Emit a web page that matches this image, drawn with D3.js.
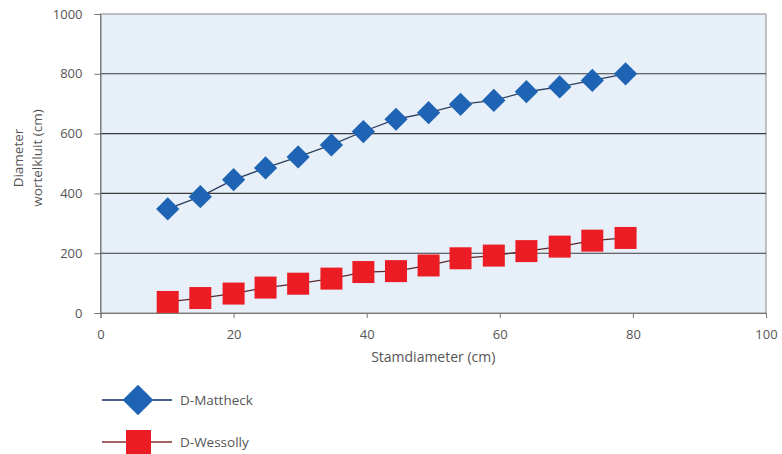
<!DOCTYPE html>
<html><head><meta charset="utf-8">
<script src="https://cdn.jsdelivr.net/npm/d3@7/dist/d3.min.js"></script>
<style>
html,body{margin:0;padding:0;background:#fff;}
svg{display:block;}
text{font-family:"Open Sans",sans-serif;fill:#555;}
</style></head>
<body>
<svg id="chart" width="782" height="454"></svg>
<script>
const stamdiameter = [10.1,15,20,24.8,29.7,34.7,39.5,44.4,49.3,54.1,59.1,64,69,73.9,78.9];
const dMattheck = [348,389,446,485,522,562,607,648,670,698,711,740,756,778,800];
const dWessolly = [37,50,65,85,98,115,137,140,159,183,192,207,222,242,251];
const xTicks = [0,20,40,60,80,100];
const yTicks = [0,200,400,600,800,1000];
const seriesNames = ["D-Mattheck","D-Wessolly"];
const xTitle = "Stamdiameter (cm)";
const yTitle = ["Diameter","wortelkluit (cm)"];

const svg = d3.select("#chart");
const L = 100.5, R = 766, T = 14, B = 313;
const x = d3.scaleLinear().domain([0,100]).range([L,R]);
const y = d3.scaleLinear().domain([0,1000]).range([B,T]);

// plot background
svg.append("rect").attr("x",L).attr("y",T).attr("width",R-L).attr("height",B-T)
  .attr("fill","#e7eff9").attr("stroke","#8a8a8a").attr("stroke-width",1);

// gridlines
svg.append("g").selectAll("line").data(yTicks.filter(d=>d>0&&d<1000)).join("line")
  .attr("x1",L).attr("x2",R).attr("y1",d=>y(d)).attr("y2",d=>y(d))
  .attr("stroke","#3a3a3a").attr("stroke-width",1.1);

// axes
const yAxis = d3.axisLeft(y).tickValues(yTicks).tickSize(6).tickPadding(12).tickFormat(d3.format("d"));
const gy = svg.append("g").attr("transform",`translate(${L},0)`).call(yAxis);
const xAxis = d3.axisBottom(x).tickValues(xTicks).tickSize(5).tickPadding(12).tickFormat(d3.format("d"));
const gx = svg.append("g").attr("transform",`translate(0,${B})`).call(xAxis);
[gx,gy].forEach(g=>{
  g.select(".domain").attr("stroke","#777");
  g.selectAll(".tick line").attr("stroke","#777");
  g.selectAll(".tick text").attr("fill","#5a5a5a").style("font-size","13px").style("font-family","'Open Sans',sans-serif");
});

// titles
svg.append("text").attr("x",(L+R)/2).attr("y",362).attr("text-anchor","middle")
  .style("font-size","14px").text(xTitle);
yTitle.forEach((t,i)=>{
  svg.append("text").attr("transform",`translate(${23+i*19},158) rotate(-90)`)
    .attr("text-anchor","middle").style("font-size","13.5px").text(t);
});

const line = d3.line().x((d,i)=>x(stamdiameter[i])).y(d=>y(d));

// Mattheck
svg.append("path").datum(dMattheck).attr("d",line).attr("fill","none")
  .attr("stroke","#2a3f5f").attr("stroke-width",1.3);
svg.append("g").selectAll("path").data(dMattheck).join("path")
  .attr("transform",(d,i)=>`translate(${x(stamdiameter[i])},${y(d)}) rotate(45)`)
  .attr("d",d3.symbol().type(d3.symbolSquare).size(270))
  .attr("fill","#1f63b5");

// Wessolly
svg.append("path").datum(dWessolly).attr("d",line).attr("fill","none")
  .attr("stroke","#5a2a2a").attr("stroke-width",1.3);
svg.append("g").selectAll("rect").data(dWessolly).join("rect")
  .attr("x",(d,i)=>x(stamdiameter[i])-11).attr("y",d=>y(d)-11)
  .attr("width",22).attr("height",22).attr("fill","#ec1c24");

// legend
const lg = svg.append("g");
lg.append("line").attr("x1",102).attr("x2",172).attr("y1",400).attr("y2",400).attr("stroke","#46628c").attr("stroke-width",1.8);
lg.append("path").attr("transform","translate(138,400) rotate(45)")
  .attr("d",d3.symbol().type(d3.symbolSquare).size(470)).attr("fill","#1f63b5");
lg.append("text").attr("x",180).attr("y",400).attr("dy","0.35em").style("font-size","13.5px").text(seriesNames[0]);
lg.append("line").attr("x1",102).attr("x2",172).attr("y1",442).attr("y2",442).attr("stroke","#a86060").attr("stroke-width",2);
lg.append("rect").attr("x",126).attr("y",430).attr("width",25).attr("height",25).attr("fill","#ec1c24");
lg.append("text").attr("x",180).attr("y",442).attr("dy","0.35em").style("font-size","13.5px").text(seriesNames[1]);
</script>
</body></html>
